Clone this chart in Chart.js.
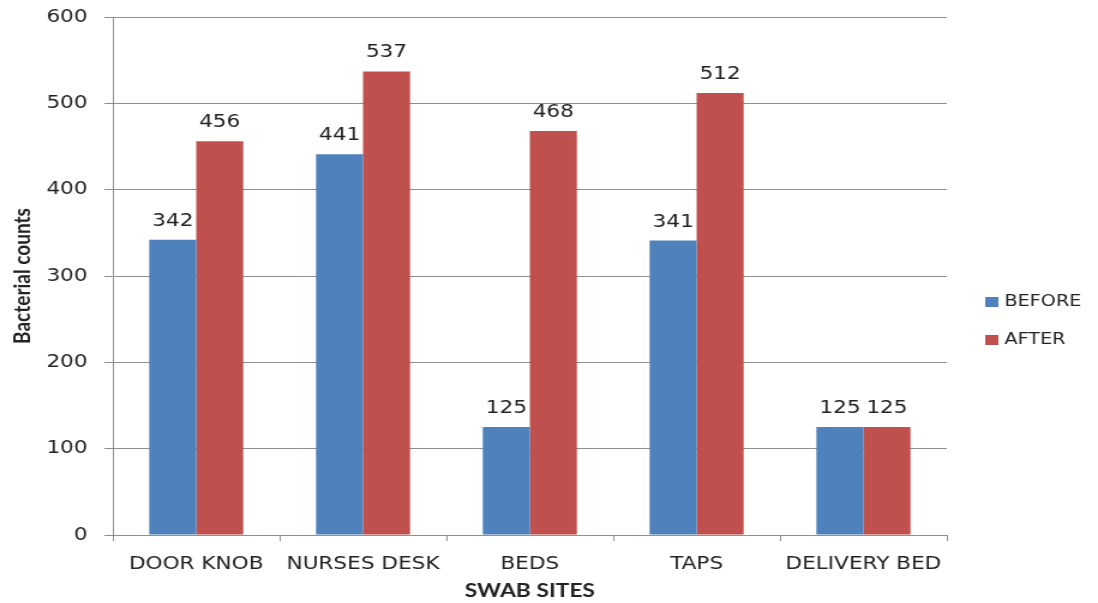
<!DOCTYPE html>
<html>
<head>
<meta charset="utf-8">
<script src="https://cdn.jsdelivr.net/npm/chart.js@4.4.1/dist/chart.umd.min.js"></script>
<style>
  html, body { margin: 0; padding: 0; background: #ffffff; overflow: hidden; }
  /* The chart is laid out on a narrower canvas and widened horizontally,
     giving the broad lettering of the printed figure. */
  #wrap { width: 915px; height: 603px; position: relative;
          transform: scaleX(1.2); transform-origin: 0 0; }
</style>
</head>
<body>
<div id="wrap"><canvas id="chart"></canvas></div>
<script>
// Swab sites and bacterial counts before / after
const categories = ['DOOR KNOB', 'NURSES DESK', 'BEDS', 'TAPS', 'DELIVERY BED'];
const beforeCounts = [342, 441, 125, 341, 125];
const afterCounts = [456, 537, 468, 512, 125];
const yTicks = [0, 100, 200, 300, 400, 500, 600];

const BLUE = '#4F81BD';
const RED = '#C0504D';
const GRID = '#8f8f8f';
const TEXT = '#222222';
const FONT = '"DejaVu Sans", sans-serif';
const TITLE_FONT = 'Lato, "Open Sans", sans-serif';

// Value labels above each bar
const valueLabels = {
  id: 'valueLabels',
  afterDatasetsDraw(chart) {
    const ctx = chart.ctx;
    ctx.save();
    ctx.font = '18px ' + FONT;
    ctx.fillStyle = TEXT;
    ctx.textAlign = 'center';
    ctx.textBaseline = 'alphabetic';
    chart.data.datasets.forEach((ds, di) => {
      const meta = chart.getDatasetMeta(di);
      meta.data.forEach((bar, i) => {
        ctx.fillText(String(ds.data[i]), bar.x, bar.y - 14);
      });
    });
    ctx.restore();
  }
};

// Legend at the right side, built from the datasets
const sideLegend = {
  id: 'sideLegend',
  afterDraw(chart) {
    const ctx = chart.ctx;
    const x0 = chart.chartArea.right + 32;
    ctx.save();
    ctx.font = '16px ' + FONT;
    ctx.textAlign = 'left';
    ctx.textBaseline = 'middle';
    chart.data.datasets.forEach((ds, di) => {
      const y = 302 + di * 38;
      ctx.fillStyle = ds.backgroundColor;
      ctx.fillRect(x0, y - 5, 11, 10);
      ctx.fillStyle = TEXT;
      ctx.fillText(ds.label, x0 + 16, y);
    });
    ctx.restore();
  }
};

new Chart(document.getElementById('chart'), {
  type: 'bar',
  data: {
    labels: categories,
    datasets: [
      { label: 'BEFORE', data: beforeCounts, backgroundColor: BLUE },
      { label: 'AFTER', data: afterCounts, backgroundColor: RED }
    ]
  },
  options: {
    responsive: true,
    maintainAspectRatio: false,
    animation: false,
    layout: { padding: { left: 0, right: 126, top: 17, bottom: 0 } },
    datasets: { bar: { categoryPercentage: 0.564, barPercentage: 1.0 } },
    plugins: { legend: { display: false }, tooltip: { enabled: false } },
    scales: {
      x: {
        grid: { offset: true, drawOnChartArea: false, drawTicks: true, tickLength: 6, color: GRID },
        border: { display: true, color: GRID },
        ticks: { color: TEXT, font: { family: FONT, size: 18 }, padding: 13, maxRotation: 0 },
        title: { display: true, text: 'SWAB SITES', color: TEXT,
                 font: { family: TITLE_FONT, size: 19, weight: 'bold' },
                 padding: { top: 0, bottom: 1 } },
        afterFit(scale) { scale.height = 68; }
      },
      y: {
        min: 0, max: 600,
        afterBuildTicks(scale) { scale.ticks = yTicks.map(v => ({ value: v })); },
        grid: { color: GRID, tickLength: 7, drawTicks: true },
        border: { display: true, color: GRID },
        ticks: { color: TEXT, font: { family: FONT, size: 18 }, padding: 14 },
        title: { display: true, text: 'Bacterial counts', color: TEXT,
                 font: { family: TITLE_FONT, size: 19, weight: 'bold' },
                 padding: { top: 7, bottom: 0 } },
        afterFit(scale) {
          scale.width = 94;
          scale.paddingTop = 0;
          scale.paddingBottom = 0;
        }
      }
    }
  },
  plugins: [valueLabels, sideLegend]
});
</script>
</body>
</html>
